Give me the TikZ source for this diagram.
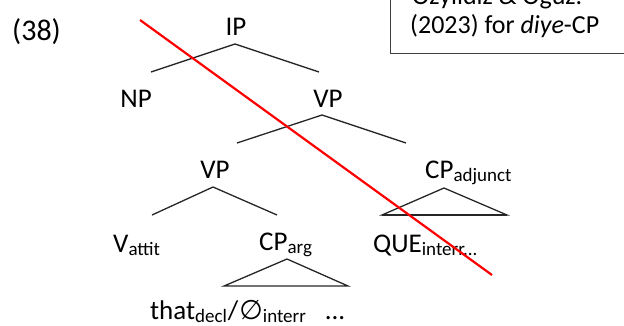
\documentclass[tikz,border=0pt]{standalone}
\usepackage{fontspec}
\setmainfont{Carlito}
\newfontfamily\symfont{DejaVu Sans}
\newcommand{\sbx}[1]{\raisebox{-3pt}{\fontsize{19}{19}\selectfont #1}}
\begin{document}
\begin{tikzpicture}[x=1pt,y=-1pt,
  lab/.style={inner sep=0pt,font=\fontsize{27}{32}\selectfont},
  boxtxt/.style={inner sep=0pt,anchor=base west,font=\fontsize{26}{30}\selectfont},
  branch/.style={line width=1.3pt,black!85},
  cross/.style={line width=2.2pt,red}]
\useasboundingbox (0,0) rectangle (624,325);
% note box
\draw[line width=1pt,black!75] (390,-20) -- (390,53) -- (640,53);
\node[boxtxt] (b1) at (412,4) {Özyıldız \& Oğuz.};
\node[boxtxt] (b2) at (410,33) {(2023) for \textit{diye}-CP};
% example number
\node[lab,anchor=base west,font=\fontsize{30}{34}\selectfont] (ex) at (12,40) {(38)};
% labels
\node[lab,anchor=base] (ip) at (236,35) {IP};
\node[lab,anchor=base] (np) at (136,107) {NP};
\node[lab,anchor=base] (vp1) at (328,107) {VP};
\node[lab,anchor=base] (vp2) at (215,178) {VP};
\node[lab,anchor=base west] (v) at (113,252) {V\sbx{attit}};
\node[lab,anchor=base west] (cparg) at (259,250) {CP\sbx{arg}};
\node[lab,anchor=base west] (cpadj) at (425,178) {CP\sbx{adjunct}};
\node[lab,anchor=base west] (que) at (373,252) {QUE\sbx{interr...}};
\node[lab,anchor=base west] (that) at (150,319) {that\sbx{decl}\hspace{1pt}/\hspace{1pt}{\symfont\fontsize{27}{30}\selectfont ∅}\sbx{interr}\hspace{0.7em}...};
% branch points
\coordinate (ipA) at (235,44);
\coordinate (ipL) at (151,72);
\coordinate (ipR) at (319,72);
\coordinate (vp1A) at (322,115);
\coordinate (vp1L) at (237,143);
\coordinate (vp1R) at (406,143);
\coordinate (vp2A) at (213,187);
\coordinate (vp2L) at (152,215);
\coordinate (vp2R) at (277,215);
\coordinate (argA) at (287,259);
\coordinate (argL) at (224,286);
\coordinate (argR) at (348,286);
\coordinate (adjA) at (444,188);
\coordinate (adjL) at (382,215);
\coordinate (adjR) at (507,215);
\draw[branch] (ipL) -- (ipA) -- (ipR);
\draw[branch] (vp1L) -- (vp1A) -- (vp1R);
\draw[branch] (vp2L) -- (vp2A) -- (vp2R);
\draw[branch] (argL) -- (argA) -- (argR) -- cycle;
\draw[branch] (adjL) -- (adjA) -- (adjR) -- cycle;
\draw[branch,line width=1.8pt] (adjL) -- (adjR);
% red strike-through
\coordinate (rs) at (140,20);
\coordinate (re) at (492,275);
\draw[cross] (rs) -- (re);
\end{tikzpicture}
\end{document}
